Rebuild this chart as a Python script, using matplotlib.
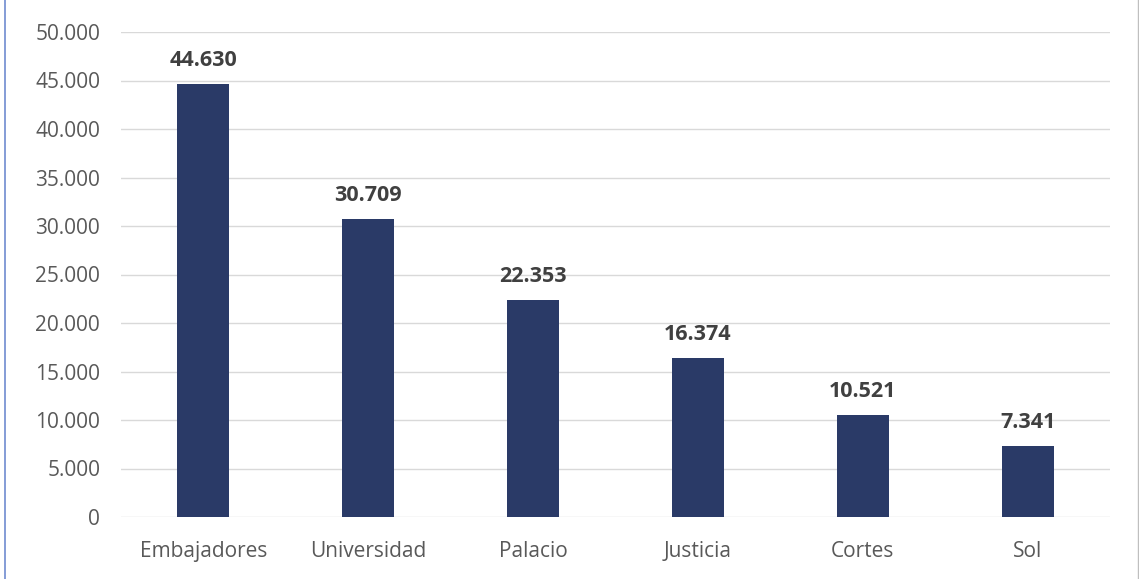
import matplotlib
matplotlib.use("Agg")
import matplotlib.pyplot as plt
from matplotlib.lines import Line2D
from matplotlib.ticker import FuncFormatter

categories = ["Embajadores", "Universidad", "Palacio", "Justicia", "Cortes", "Sol"]
values = [44630, 30709, 22353, 16374, 10521, 7341]
yticks = [0, 5000, 10000, 15000, 20000, 25000, 30000, 35000, 40000, 45000, 50000]

plt.rcParams['font.family'] = ['Open Sans', 'DejaVu Sans']

W, H = 1139, 579
fig = plt.figure(figsize=(W / 100, H / 100), dpi=100)
ax = fig.add_axes([121 / W, 62 / H, (1110 - 121) / W, (517 - 32) / H])

x = list(range(len(categories)))
ax.bar(x, values, width=0.315, color="#2A3A67", zorder=3)
ax.set_xlim(-0.5, len(categories) - 0.5)
ax.set_ylim(0, 50000)
ax.set_yticks(yticks)

def fmt(v, pos=None):
    return f"{int(v):,}".replace(",", ".")

ax.yaxis.set_major_formatter(FuncFormatter(fmt))
ax.set_xticks(x)
ax.set_xticklabels(categories)
ax.grid(axis="y", color="#D9D9D9", linewidth=1, zorder=0)
for s in ax.spines.values():
    s.set_visible(False)
ax.tick_params(axis="both", length=0, labelsize=15, labelcolor="#595959")
ax.tick_params(axis="y", pad=15)
ax.tick_params(axis="x", pad=17)

for xi, v in zip(x, values):
    ax.annotate(fmt(v), (xi, v), xytext=(0, 9.5), textcoords="offset points",
                ha="center", va="bottom", fontsize=15.5, fontweight="bold", color="#404040")

fig.add_artist(Line2D([4.5 / W, 4.5 / W], [0, 1], color="#6F8BD0", linewidth=1.2))
fig.add_artist(Line2D([1137.5 / W, 1137.5 / W], [0, 1], color="#BFBFBF", linewidth=1))

fig.savefig("out.png", dpi=100)
